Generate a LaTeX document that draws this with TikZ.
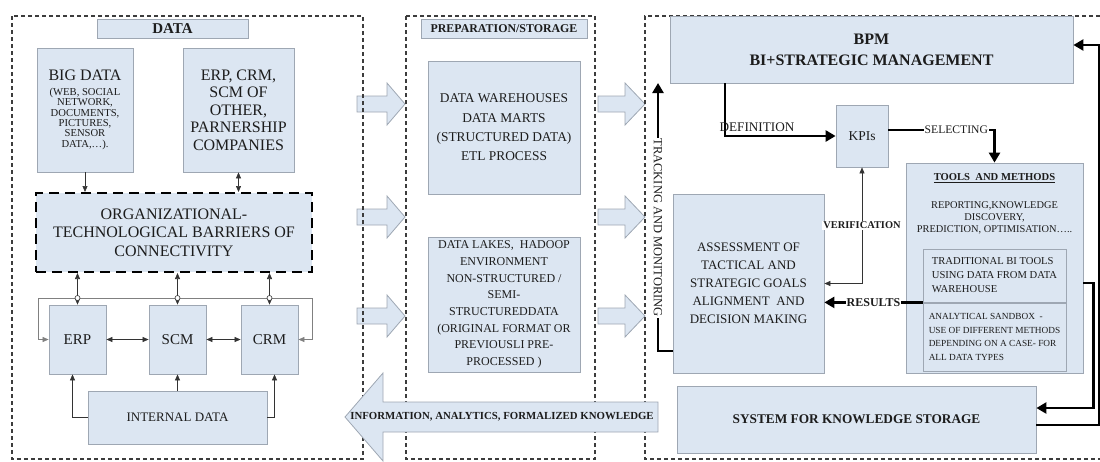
\documentclass[tikz,border=0pt]{standalone}
\usepackage{fontspec}
\setmainfont{Liberation Serif}
\usetikzlibrary{arrows.meta}
\definecolor{boxfill}{HTML}{DCE6F2}
\definecolor{boxline}{HTML}{9EA7B3}
\definecolor{inkc}{HTML}{1C1C1C}
\definecolor{framec}{HTML}{3C3C3C}
\newcommand{\fsz}[2]{\fontsize{#1}{#2}\selectfont}
\tikzset{
  box/.style={draw=boxline, line width=0.8pt, fill=boxfill, align=center, text=inkc, inner sep=1pt},
  frame/.style={draw=framec, line width=1.8pt, dash pattern=on 4pt off 3pt},
  barrierbox/.style={box, draw=black, line width=2pt, dash pattern=on 10pt off 6pt},
  thinline/.style={draw=black!80, line width=0.6pt},
  thinarrow/.style={thinline, -{Triangle[length=6pt,width=5pt]}},
  thinboth/.style={thinline, {Triangle[length=6pt,width=5pt]}-{Triangle[length=6pt,width=5pt]}},
  thickarrow/.style={draw=black, line width=2.8pt, -{Triangle[length=10pt,width=11pt]}},
  blockarrow/.style={draw=boxline, line width=0.8pt, fill=boxfill},
  lbl/.style={text=inkc, inner sep=1pt},
}
\begin{document}
\begin{tikzpicture}[x=1pt,y=-1pt]
	\useasboundingbox (0,0) rectangle (1100,461);
	
	% block arrows between the columns
	\foreach \y in {104,217,316} {
		\draw[blockarrow] (357,\y-8) -- (387,\y-8) -- (387,\y-21) -- (405,\y) -- (387,\y+21) -- (387,\y+8) -- (357,\y+8) -- cycle;
		\draw[blockarrow] (598,\y-8) -- (625,\y-8) -- (625,\y-21) -- (645,\y) -- (625,\y+21) -- (625,\y+8) -- (598,\y+8) -- cycle;
	}
	
	% dashed frames
	\draw[frame] (12,16) rectangle (363,459);
	\draw[frame] (406,16) rectangle (595,459);
	\draw[frame] (1100,16) -- (645,16) -- (645,459) -- (1100,459);
	
	% data column
	\node[box, minimum width=151, minimum height=19, font=\bfseries\fsz{15}{17}] (datatitle) at (172.5,28.5) {DATA};
	\node[box, minimum width=96, minimum height=124, font=\fsz{10.6}{10.4}] (bigdata) at (85,110)
		{{\fsz{16}{18}BIG DATA}\\[4pt](WEB, SOCIAL\\ NETWORK,\\ DOCUMENTS,\\ PICTURES,\\ SENSOR\\ DATA,…).};
	\node[box, minimum width=111, minimum height=124, font=\fsz{16}{17.5}] (partner) at (238.5,110)
		{ERP, CRM,\\ SCM OF\\ OTHER,\\ PARNERSHIP\\ COMPANIES};
	\node[barrierbox, minimum width=276, minimum height=79, font=\fsz{16}{18.5}] (barrier) at (174,232.5)
		{ORGANIZATIONAL-\\ TECHNOLOGICAL BARRIERS OF\\ CONNECTIVITY};
	\node[box, minimum width=57, minimum height=69, font=\fsz{15}{17}] (erp) at (77.5,339.5) {ERP};
	\node[box, minimum width=57, minimum height=69, font=\fsz{15}{17}] (scm) at (177.5,339.5) {SCM};
	\node[box, minimum width=57, minimum height=69, font=\fsz{15}{17}] (crm) at (269.5,339.5) {CRM};
	\node[box, minimum width=179, minimum height=53, font=\fsz{13}{15}] (internal) at (177.5,417.5) {INTERNAL DATA};
	
	\draw[thinarrow] (bigdata.south) -- (bigdata.south |- barrier.north);
	\draw[thinboth] (partner.south) -- (partner.south |- barrier.north);
	\coordinate (busL) at (38,298);
	\coordinate (busR) at (312,298);
	\draw[thinarrow, draw=black!50] (busR) -- (busL) |- (erp.west);
	\draw[thinarrow, draw=black!50] (busL) -- (busR) |- (crm.east);
	\foreach \b in {erp,scm,crm} {
		\draw[thinboth] (\b.north |- barrier.south) -- (\b.north);
		\draw[thinline, fill=white] (\b.north |- busL) circle (2.5);
	}
	\draw[thinboth] (erp.east) -- (scm.west);
	\draw[thinboth] (scm.east) -- (crm.west);
	\draw[thinarrow] (internal.west) -| ([xshift=-5]erp.south);
	\draw[thinarrow] (internal.north) -- (scm.south);
	\draw[thinarrow] (internal.east) -| ([xshift=5]crm.south);
	
	% preparation column
	\node[box, minimum width=166, minimum height=19, font=\bfseries\fsz{11.9}{14}] (preptitle) at (504,28.5) {PREPARATION/STORAGE};
	\node[box, minimum width=152, minimum height=133, font=\fsz{13.4}{19.3}] (dwh) at (504,127.5)
		{DATA WAREHOUSES\\ DATA MARTS\\ (STRUCTURED DATA)\\ ETL PROCESS};
	\node[box, minimum width=152, minimum height=135, font=\fsz{12}{16.7}] (lake) at (504,304.5)
		{DATA LAKES,\ \ HADOOP\\ ENVIRONMENT\\ NON-STRUCTURED /\\ SEMI-\\ STRUCTUREDDATA\\ (ORIGINAL FORMAT OR\\ PREVIOUSLI PRE-\\ PROCESSED )};
	
	% feedback arrow
	\draw[blockarrow] (658,402) -- (383,402) -- (383,373) -- (345,417) -- (383,461) -- (383,432) -- (658,432) -- cycle;
	\node[lbl, font=\bfseries\fsz{10.8}{13}] (infotext) at (502,417) {INFORMATION, ANALYTICS, FORMALIZED KNOWLEDGE};
	
	% management column
	\node[box, minimum width=403, minimum height=67, font=\bfseries\fsz{16}{21}] (bpm) at (871.5,49.5) {BPM\\ BI+STRATEGIC MANAGEMENT};
	\node[box, minimum width=52, minimum height=62, font=\fsz{13.5}{15}] (kpi) at (862,136) {KPIs};
	\node[box, minimum width=177, minimum height=210] (tools) at (994.5,268) {};
	\node[lbl, font=\bfseries\fsz{10.6}{12}] (toolstitle) at (994.5,178) {\underline{TOOLS\ \ AND METHODS}};
	\node[lbl, align=center, font=\fsz{10.4}{12}] (toolstext) at (994.5,218)
		{REPORTING,KNOWLEDGE\\ DISCOVERY,\\ PREDICTION, OPTIMISATION…..};
	\node[box, align=left, minimum width=143, minimum height=53, font=\fsz{10.6}{14}] (trad) at (994.5,275.5)
		{TRADITIONAL BI TOOLS\\ USING DATA FROM DATA\\ WAREHOUSE};
	\node[box, align=left, minimum width=143, minimum height=68, font=\fsz{9.3}{13.7}] (sandbox) at (994.5,337)
		{ANALYTICAL SANDBOX\ \ -\\ USE OF DIFFERENT METHODS\\ DEPENDING ON A CASE- FOR\\ ALL DATA TYPES};
	\node[box, minimum width=151, minimum height=179, font=\fsz{13}{18}] (assess) at (748.5,283.5)
		{ASSESSMENT OF\\ TACTICAL AND\\ STRATEGIC GOALS\\ ALIGNMENT\ \ AND\\ DECISION MAKING};
	\node[box, minimum width=359, minimum height=67, font=\bfseries\fsz{13.3}{15}] (store) at (856.5,419.5) {SYSTEM FOR KNOWLEDGE STORAGE};
	
	\coordinate (defstart) at (725,83);
	\draw[thickarrow] (defstart) |- (kpi.west);
	\node[lbl, font=\fsz{13.2}{15}] (deflbl) at (757,127) {DEFINITION};
	\draw[thickarrow] ([yshift=6]kpi.east) -| node[pos=0.32, fill=white, lbl, font=\fsz{11.6}{13}] (sellbl) {SELECTING} (tools.north);
	\draw[thinboth] (kpi.south) |- node[pos=0.25, fill=white, lbl, font=\bfseries\fsz{10.4}{12}] (verlbl) {VERIFICATION} (assess.east);
	\draw[thickarrow] (trad.south west) -- (trad.south west -| assess.east) node[midway, fill=white, lbl, font=\bfseries\fsz{12}{14}] (reslbl) {RESULTS};
	\coordinate (trkend) at (658,83);
	\draw[thickarrow] ([yshift=-67.5]assess.west) -| node[pos=0.73, fill=white, rotate=-90, lbl, font=\fsz{12.5}{14}] (trklbl) {TRACKING AND MONITORING} (trkend);
	\draw[thickarrow] ([yshift=-15]tools.east) -- ++(10,0) |- ([yshift=11.5]store.east);
	\draw[thickarrow] ([yshift=-5.5]store.east) -- ++(63,0) |- ([yshift=4.5]bpm.east);
	
\end{tikzpicture}
\end{document}
